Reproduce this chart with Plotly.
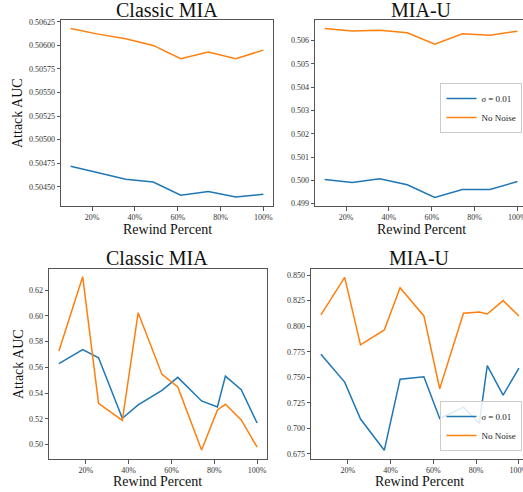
import plotly.graph_objects as go

# ---------------- data ----------------
x_top = [10.0, 22.86, 35.71, 48.57, 61.43, 74.29, 87.14, 100.0]
tl_sigma = [0.504717, 0.50465, 0.50458, 0.50455, 0.50441, 0.50445, 0.50439, 0.50442]
tl_nonoise = [0.50618, 0.50612, 0.50607, 0.50600, 0.50586, 0.50593, 0.50586, 0.50595]
tr_sigma = [0.50004, 0.49991, 0.50007, 0.49981, 0.49927, 0.49961, 0.49961, 0.49995]
tr_nonoise = [0.50651, 0.50641, 0.50644, 0.50633, 0.50584, 0.50629, 0.50623, 0.50640]

x_bot = [7.41, 18.52, 25.93, 37.04, 44.44, 55.56, 62.96, 74.07, 81.48, 85.19, 92.59, 100.0]
bl_sigma = [0.5629, 0.5738, 0.5675, 0.5203, 0.5307, 0.5421, 0.5522, 0.5338, 0.5291, 0.5532, 0.5426, 0.5166]
bl_nonoise = [0.5727, 0.6306, 0.5320, 0.5187, 0.6026, 0.5545, 0.5447, 0.4956, 0.5268, 0.5312, 0.5190, 0.4979]
br_sigma = [0.7726, 0.7453, 0.7092, 0.6786, 0.7482, 0.7505, 0.7098, 0.7209, 0.7049, 0.7615, 0.7326, 0.7589]
br_nonoise = [0.8110, 0.8477, 0.7817, 0.7963, 0.8376, 0.8100, 0.7388, 0.8126, 0.8139, 0.8119, 0.8250, 0.8100]

x_ticks = [20, 40, 60, 80, 100]
x_ticklabels = ["20%", "40%", "60%", "80%", "100%"]
tl_ticks = [0.50450, 0.50475, 0.50500, 0.50525, 0.50550, 0.50575, 0.50600, 0.50625]
tr_ticks = [0.499, 0.500, 0.501, 0.502, 0.503, 0.504, 0.505, 0.506]
bl_ticks = [0.50, 0.52, 0.54, 0.56, 0.58, 0.60, 0.62]
br_ticks = [0.675, 0.700, 0.725, 0.750, 0.775, 0.800, 0.825, 0.850]

titles = ["Classic MIA", "MIA-U", "Classic MIA", "MIA-U"]
series_names = ["<i>σ</i> = 0.01", "No Noise"]

# ---------------- styling ----------------
W, H = 523, 492
BLUE = "#1f77b4"
ORANGE = "#ff7f0e"
FONT = "Liberation Serif"
FRAME = "#555555"

def px(x):
    return x / W

def py(y):
    return 1 - y / H

fig = go.Figure()

panels = [
    ("x", "y", x_top, tl_sigma, tl_nonoise, None, tl_ticks, "{:.5f}",
     [px(61), px(273)], [py(206), py(20)], [5.5, 104.5], [0.504295, 0.50627], True),
    ("x2", "y2", x_top, tr_sigma, tr_nonoise, "legend", tr_ticks, "{:.3f}",
     [px(315), 1.0], [py(206), py(20)], [5.5, 102.6], [0.4989, 0.50688], False),
    ("x3", "y3", x_bot, bl_sigma, bl_nonoise, None, bl_ticks, "{:.2f}",
     [px(49), px(267)], [py(459), py(269)], [2.78, 104.63], [0.4886, 0.6366], True),
    ("x4", "y4", x_bot, br_sigma, br_nonoise, "legend2", br_ticks, "{:.3f}",
     [px(311), 1.0], [py(459), py(269)], [2.78, 101.9], [0.6701, 0.8559], False),
]

layout_axes = {}
for (xa, ya, xs, s1, s2, leg, yt, fmt, xd, yd, xr, yr, mirror_y) in panels:
    for vals, name, col in ((s1, series_names[0], BLUE), (s2, series_names[1], ORANGE)):
        tr = dict(x=xs, y=vals, mode="lines", name=name,
                  line=dict(color=col, width=1.5), xaxis=xa, yaxis=ya,
                  showlegend=leg is not None)
        if leg is not None:
            tr["legend"] = leg
        fig.add_trace(go.Scatter(**tr))
    xkey = "xaxis" if xa == "x" else "xaxis" + xa[1:]
    ykey = "yaxis" if ya == "y" else "yaxis" + ya[1:]
    layout_axes[xkey] = dict(
        domain=xd, range=xr, anchor=ya, tickvals=x_ticks, ticktext=x_ticklabels,
        showgrid=False, zeroline=False, showline=True, linecolor=FRAME, linewidth=1,
        mirror=True, ticks="outside", ticklen=3.5, tickcolor=FRAME, tickwidth=0.8,
        tickfont=dict(family=FONT, size=8, color="#333333"), automargin=False,
        ticklabeloverflow="allow",
    )
    layout_axes[ykey] = dict(
        domain=yd, range=yr, anchor=xa, tickvals=yt, ticktext=[fmt.format(v) for v in yt],
        showgrid=False, zeroline=False, showline=True, linecolor=FRAME, linewidth=1,
        mirror=mirror_y, ticks="outside", ticklen=3.5, tickcolor=FRAME, tickwidth=0.8,
        tickfont=dict(family=FONT, size=8, color="#333333"), automargin=False,
    )

annotations = []
for txt, cx, cy in ((titles[0], 167, 10), (titles[1], 421, 10), (titles[2], 157, 258), (titles[3], 419, 258)):
    annotations.append(dict(text=txt, x=px(cx), y=py(cy), xref="paper", yref="paper",
                            xanchor="center", yanchor="middle", showarrow=False,
                            font=dict(family=FONT, size=20, color="#111111")))
for cx, cy in ((167, 229), (421, 229), (157, 481), (419, 481)):
    annotations.append(dict(text="Rewind Percent", x=px(cx), y=py(cy), xref="paper", yref="paper",
                            xanchor="center", yanchor="middle", showarrow=False,
                            font=dict(family=FONT, size=14, color="#111111")))
for cx, cy in ((17, 113), (18, 364)):
    annotations.append(dict(text="Attack AUC", x=px(cx), y=py(cy), xref="paper", yref="paper",
                            xanchor="center", yanchor="middle", showarrow=False, textangle=-90,
                            font=dict(family=FONT, size=14, color="#111111")))

legend_style = dict(font=dict(family=FONT, size=9, color="#222222"),
                    bgcolor="rgba(255,255,255,0.85)", bordercolor="#cccccc", borderwidth=1,
                    itemwidth=30, tracegroupgap=0)

fig.update_layout(
    width=W, height=H,
    margin=dict(l=0, r=0, t=0, b=0, autoexpand=False),
    paper_bgcolor="white", plot_bgcolor="white",
    annotations=annotations,
    legend=dict(x=0.999, y=py(108), xanchor="right", yanchor="middle", **legend_style),
    legend2=dict(x=0.999, y=py(451), xanchor="right", yanchor="bottom", **legend_style),
    **layout_axes,
)

fig.write_html(
    "out.html",
    config={"displayModeBar": False},
    post_script="document.body.style.margin='0';document.body.style.padding='0';"
                "document.body.style.overflow='hidden';",
)
